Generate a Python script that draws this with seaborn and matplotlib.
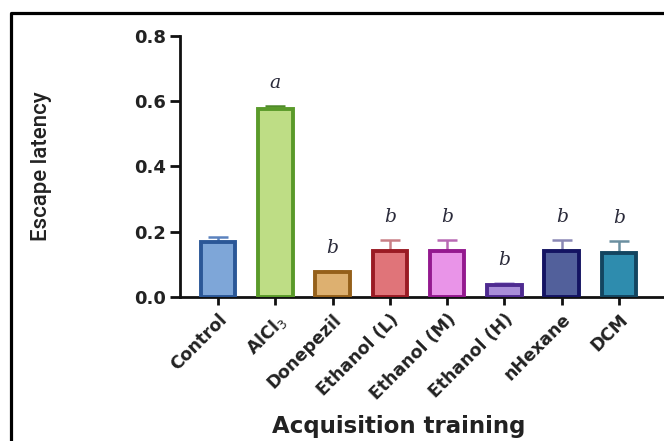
import numpy as np
import pandas as pd
import matplotlib
matplotlib.use("Agg")
import matplotlib.pyplot as plt
from matplotlib.lines import Line2D
import seaborn as sns

# Escape latency (mean and SEM) during acquisition training
groups = ["Control", "AlCl$_3$", "Donepezil", "Ethanol (L)", "Ethanol (M)",
          "Ethanol (H)", "nHexane", "DCM"]
means = [0.169, 0.575, 0.077, 0.141, 0.141, 0.037, 0.141, 0.134]
sems = [0.015, 0.011, 0.003, 0.033, 0.033, 0.005, 0.033, 0.037]
letters = ["", "a", "b", "b", "b", "b", "b", "b"]
yticks = [0.0, 0.2, 0.4, 0.6, 0.8]

fills = ["#7EA6D8", "#BEDD85", "#DDB070", "#E07479", "#E994E8",
         "#A98ED8", "#52609B", "#2E8CAE"]
edges = ["#2B5797", "#5A9A2A", "#95601A", "#9A1B24", "#94198F",
         "#4E2A90", "#141462", "#134560"]
err_colors = ["#5B82BE", "#4F8A2A", "#C8A878", "#C98086", "#B96AB5",
              "#B8A8DC", "#8A88B5", "#6B8FA0"]

sns.set_theme(style="white")
plt.rcParams["font.family"] = ["DejaVu Sans"]
plt.rcParams["mathtext.fontset"] = "custom"
plt.rcParams["mathtext.rm"] = "DejaVu Sans"
plt.rcParams["mathtext.it"] = "DejaVu Sans:italic"

df = pd.DataFrame({"group": groups, "mean": means, "sem": sems})

fig = plt.figure(figsize=(6.64, 4.41), dpi=100)
ax = fig.add_axes([180 / 664, 1 - 296.7 / 441, 1 - 180 / 664, (296.7 - 36) / 441])

sns.barplot(data=df, x="group", y="mean", hue="group", palette=fills,
            width=0.605, linewidth=2.8, errorbar=None, legend=False, ax=ax,
            saturation=1)
for patch, ec in zip(ax.patches, edges):
    patch.set_edgecolor(ec)
    patch.set_zorder(3)

# upward-only SEM whiskers
for i, (m, s, c) in enumerate(zip(means, sems, err_colors)):
    ax.errorbar(i, m, yerr=[[0], [s]], color=c, lw=1.8, capsize=7.5,
                capthick=1.8, zorder=2)

# significance letters
for i, (m, s, t) in enumerate(zip(means, sems, letters)):
    if t:
        ax.text(i, m + s + 0.07, t, ha="center", va="center",
                fontsize=13.5, style="italic", family="DejaVu Serif",
                color="#2a2a3a")

ax.set_ylim(0, 0.8)
ax.set_xlim(-0.663, 7.785)
ax.set_yticks(yticks)
ax.set_yticklabels([f"{v:.1f}" for v in yticks], fontsize=13,
                   fontweight="bold", color="#222222")
ax.set_xticks(range(len(groups)))
ax.set_xticklabels(groups, rotation=45, ha="right", rotation_mode="anchor",
                   fontsize=12.5, fontweight="bold", color="#222222")

for side in ["top", "right"]:
    ax.spines[side].set_visible(False)
for side in ["left", "bottom"]:
    ax.spines[side].set_linewidth(2.0)
    ax.spines[side].set_color("#111111")
ax.tick_params(axis="y", direction="out", length=7, width=2.0, pad=3,
               left=True, color="#111111")
ax.tick_params(axis="x", direction="out", length=6, width=2.0, pad=4,
               bottom=True, color="#111111")

ax.set_xlabel("Acquisition training", fontsize=16.5, fontweight="bold",
              color="#222222")
ax.set_ylabel("Escape latency", fontsize=16, family="Roboto",
              fontweight="medium", color="#222222")
ax.yaxis.set_label_coords(42 / 664, 1 - 166 / 441, transform=fig.transFigure)
ax.xaxis.set_label_coords(399 / 664, 1 - 427 / 441, transform=fig.transFigure)
ax.xaxis.label.set_va("center")
ax.yaxis.label.set_va("center")

# outer frame along the left and top edges
fig.add_artist(Line2D([10.5 / 664, 10.5 / 664, 1.0],
                      [0.0, 1 - 13 / 441, 1 - 13 / 441],
                      transform=fig.transFigure, color="black", lw=2.3))

fig.savefig("out.png", dpi=100)
